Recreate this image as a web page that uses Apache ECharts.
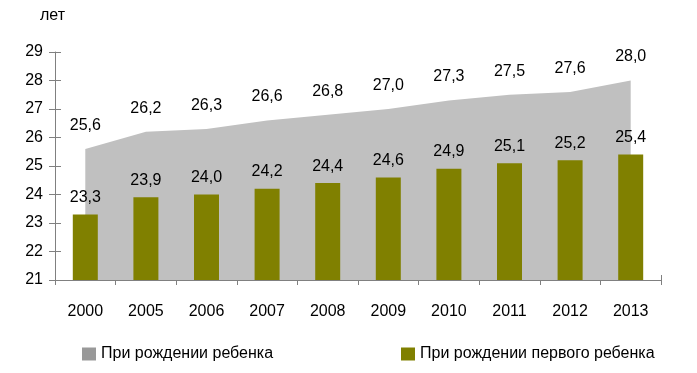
<!DOCTYPE html>
<html><head><meta charset="utf-8">
<script src="https://cdn.jsdelivr.net/npm/echarts@6/dist/echarts.min.js"></script>
<style>html,body{margin:0;padding:0;background:#fff}#c{width:697px;height:373px}</style>
</head><body><div id="c"></div>
<script>
const categories = ['2000','2005','2006','2007','2008','2009','2010','2011','2012','2013'];
const allBirths = [25.6,26.2,26.3,26.6,26.8,27.0,27.3,27.5,27.6,28.0];
const firstBirths = [23.3,23.9,24.0,24.2,24.4,24.6,24.9,25.1,25.2,25.4];
const seriesNames = ['При рождении ребенка','При рождении первого ребенка'];
const yMin = 21, yMax = 29, yStep = 1;
const unitLabel = 'лет';

const FONT = 'Liberation Sans, Arial, sans-serif';
const FS = 16;
const fmt = v => v.toFixed(1).replace('.', ',');
const axisColor = '#808080';

const chart = echarts.init(document.getElementById('c'), null, {renderer:'canvas'});
chart.setOption({
  animation: false,
  textStyle: {fontFamily: FONT},
  grid: {left: 55, right: 36, top: 52, bottom: 93, containLabel: false},
  graphic: [{type:'text', left: 40, top: 8, style:{text: unitLabel, font: FS + 'px ' + FONT, fill:'#000'}}],
  legend: [
    {left: 77, top: 341, itemWidth: 14, itemHeight: 13, icon: 'rect',
     textStyle:{fontSize:FS, color:'#000', fontFamily: FONT},
     data:[{name: seriesNames[0], itemStyle:{color:'#999999'}}]},
    {left: 396, top: 341, itemWidth: 14, itemHeight: 13, icon: 'rect',
     textStyle:{fontSize:FS, color:'#000', fontFamily: FONT},
     data:[{name: seriesNames[1], itemStyle:{color:'#808000'}}]}
  ],
  xAxis: [
    {type:'category', data: categories, boundaryGap: true, position:'bottom',
     axisLine:{lineStyle:{color: axisColor, width:1}},
     axisTick:{show:true, length:5, lineStyle:{color: axisColor}},
     axisLabel:{fontSize:FS, color:'#000', margin:24, fontFamily: FONT},
     splitLine:{show:false}},
    {type:'category', data: categories, boundaryGap: true, position:'bottom', offset:0,
     axisLine:{show:false},
     axisTick:{show:true, inside:true, length:5, lineStyle:{color: axisColor}},
     axisLabel:{show:false}, splitLine:{show:false}}
  ],
  yAxis: [
    {type:'value', min: yMin, max: yMax, interval: yStep, position:'left',
     axisLine:{show:true, lineStyle:{color: axisColor, width:1}},
     axisTick:{show:true, length:6, lineStyle:{color: axisColor}},
     axisLabel:{fontSize:FS, color:'#000', margin:12, fontFamily: FONT},
     splitLine:{show:false}},
    {type:'value', min: yMin, max: yMax, interval: yStep, position:'left', offset:0,
     axisLine:{show:false},
     axisTick:{show:true, inside:true, length:6, lineStyle:{color: axisColor}},
     axisLabel:{show:false}, splitLine:{show:false}}
  ],
  series: [
    {name: seriesNames[0], type:'line', data: allBirths, xAxisIndex:0, yAxisIndex:0,
     symbol:'circle', symbolSize:1, showSymbol:true, smooth:false,
     lineStyle:{width:0, color:'#c0c0c0'}, itemStyle:{color:'rgba(192,192,192,0)'},
     areaStyle:{color:'#c0c0c0', opacity:1},
     label:{show:true, position:'top', distance:15, fontSize:FS, color:'#000', fontFamily: FONT,
            formatter: p => fmt(p.value)},
     z:1},
    {name: seriesNames[1], type:'bar', data: firstBirths, xAxisIndex:0, yAxisIndex:0,
     barWidth: 25, itemStyle:{color:'#808000'},
     label:{show:true, position:'top', distance:9, fontSize:FS, color:'#000', fontFamily: FONT,
            formatter: p => fmt(p.value)},
     z:2}
  ]
});
</script></body></html>
